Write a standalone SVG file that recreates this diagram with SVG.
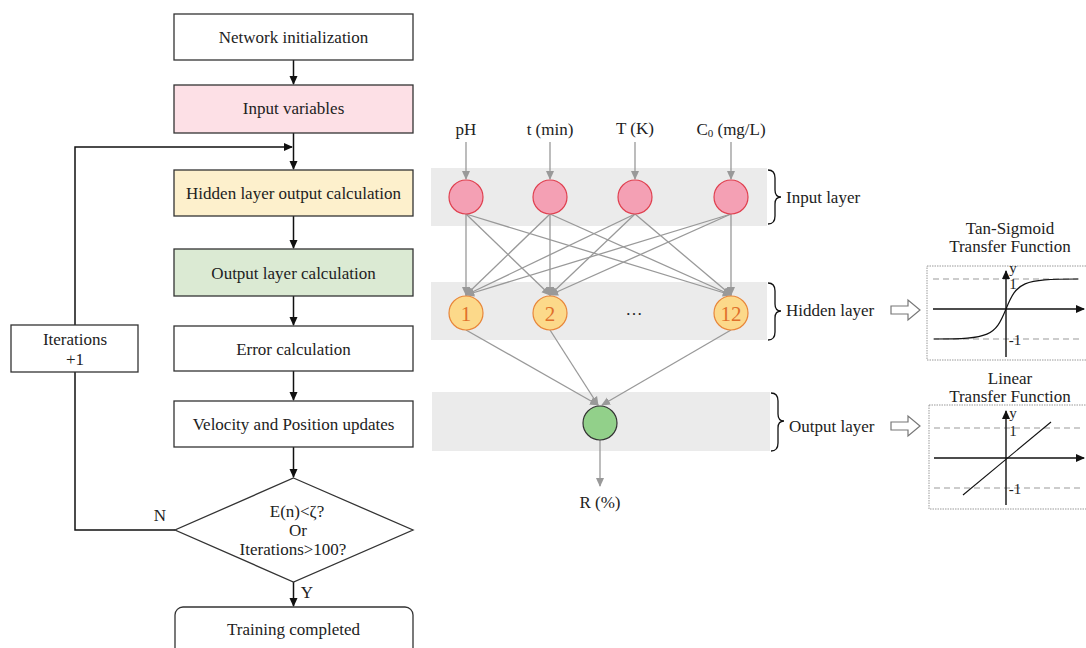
<svg xmlns="http://www.w3.org/2000/svg" width="1086" height="648" viewBox="0 0 1086 648">
<defs>
<style>
.t{font-family:"Liberation Serif","DejaVu Serif",serif;font-size:17px;fill:#222;text-anchor:middle;dominant-baseline:central}
.s{text-anchor:start}
.box{stroke:#333;stroke-width:1.3}
.fl{stroke:#111;stroke-width:1.5;fill:none}
.nn{stroke:#999;stroke-width:1.3;fill:none}
.band{fill:#ebebeb}
.in{fill:#f4a0b4;stroke:#e0404f;stroke-width:1.2}
.hid{fill:#fcd98a;stroke:#e8863a;stroke-width:1.2}
.hn{font-family:"Liberation Serif",serif;font-size:21px;fill:#e0702a;text-anchor:middle;dominant-baseline:central}
.dash{stroke:#999;stroke-width:1;stroke-dasharray:6 4;fill:none}
.panel{fill:#fff;stroke:#999;stroke-width:1;stroke-dasharray:1.5 1}
.ax{stroke:#111;stroke-width:1.4;fill:none}
.brace{stroke:#111;stroke-width:1.3;fill:none}
.ha{fill:#fff;stroke:#777;stroke-width:1.2}
.p{font-size:15px}
</style>
<marker id="ab" markerWidth="10" markerHeight="10" refX="8" refY="5" orient="auto" markerUnits="userSpaceOnUse"><path d="M0,1 L9,5 L0,9 Z" fill="#111"/></marker>
<marker id="ag" markerWidth="10" markerHeight="10" refX="8" refY="5" orient="auto" markerUnits="userSpaceOnUse"><path d="M0,1 L9,5 L0,9 Z" fill="#999"/></marker>
<marker id="ax" markerWidth="10" markerHeight="10" refX="8" refY="5" orient="auto" markerUnits="userSpaceOnUse"><path d="M0,1 L9,5 L0,9 Z" fill="#111"/></marker>
</defs>
<rect width="1086" height="648" fill="#fff"/>

<!-- bands -->
<rect class="band" x="431" y="168" width="336" height="58"/>
<rect class="band" x="431" y="282" width="336" height="58"/>
<rect class="band" x="432" y="392" width="338" height="59"/>

<!-- connectors -->
<g id="connectors">
<line class="fl" x1="293.5" y1="60" x2="293.5" y2="84" marker-end="url(#ab)"/>
<line class="fl" x1="293.5" y1="133" x2="293.5" y2="169" marker-end="url(#ab)"/>
<line class="fl" x1="293.5" y1="216" x2="293.5" y2="248" marker-end="url(#ab)"/>
<line class="fl" x1="293.5" y1="296" x2="293.5" y2="325" marker-end="url(#ab)"/>
<line class="fl" x1="293.5" y1="371" x2="293.5" y2="400" marker-end="url(#ab)"/>
<line class="fl" x1="293.5" y1="447" x2="293.5" y2="477" marker-end="url(#ab)"/>
<line class="fl" x1="293.5" y1="582" x2="293.5" y2="606" marker-end="url(#ab)"/>
<polyline class="fl" points="175,530 75,530 75,372"/>
<polyline class="fl" points="75,325 75,147 292,147" marker-end="url(#ab)"/>
<!-- NN inputs -->
<line class="nn" x1="466" y1="142" x2="466" y2="179" marker-end="url(#ag)"/>
<line class="nn" x1="550" y1="142" x2="550" y2="179" marker-end="url(#ag)"/>
<line class="nn" x1="635" y1="142" x2="635" y2="179" marker-end="url(#ag)"/>
<line class="nn" x1="731" y1="142" x2="731" y2="179" marker-end="url(#ag)"/>
<!-- input to hidden -->
<g marker-end="url(#ag)">
<line class="nn" x1="466" y1="214" x2="466" y2="295"/>
<line class="nn" x1="466" y1="214" x2="550" y2="295"/>
<line class="nn" x1="466" y1="214" x2="731" y2="295"/>
<line class="nn" x1="550" y1="214" x2="466" y2="295"/>
<line class="nn" x1="550" y1="214" x2="550" y2="295"/>
<line class="nn" x1="550" y1="214" x2="731" y2="295"/>
<line class="nn" x1="635" y1="214" x2="466" y2="295"/>
<line class="nn" x1="635" y1="214" x2="550" y2="295"/>
<line class="nn" x1="635" y1="214" x2="731" y2="295"/>
<line class="nn" x1="731" y1="214" x2="466" y2="295"/>
<line class="nn" x1="731" y1="214" x2="550" y2="295"/>
<line class="nn" x1="731" y1="214" x2="731" y2="295"/>
<line class="nn" x1="466" y1="330" x2="598" y2="405"/>
<line class="nn" x1="550" y1="330" x2="598" y2="405"/>
<line class="nn" x1="731" y1="330" x2="602" y2="405"/>
<line class="nn" x1="600" y1="440" x2="600" y2="486"/>
</g>
</g>

<!-- flowchart nodes -->
<g id="n-init"><rect class="box" x="174" y="14" width="239" height="46" fill="#fff"/><text class="t" x="293.5" y="37">Network initialization</text></g>
<g id="n-input"><rect class="box" x="174" y="85" width="239" height="48" fill="#fde0e6"/><text class="t" x="293.5" y="108">Input variables</text></g>
<g id="n-hidden"><rect class="box" x="174" y="170" width="239" height="46" fill="#fdf0cc"/><text class="t" x="293.5" y="193">Hidden layer output calculation</text></g>
<g id="n-output"><rect class="box" x="174" y="249" width="239" height="47" fill="#dbead3"/><text class="t" x="293.5" y="273">Output layer calculation</text></g>
<g id="n-error"><rect class="box" x="174" y="326" width="239" height="45" fill="#fff"/><text class="t" x="293.5" y="349">Error calculation</text></g>
<g id="n-iter"><rect class="box" x="11" y="325" width="127" height="47" fill="#fff"/><text class="t" x="75" y="339">Iterations</text><text class="t" x="75" y="359">+1</text></g>
<g id="n-vel"><rect class="box" x="174" y="401" width="239" height="46" fill="#fff"/><text class="t" x="293.5" y="424">Velocity and Position updates</text></g>
<g id="n-dec"><polygon class="box" points="293.5,478 413,530 293.5,582 175,530" fill="#fff"/><text class="t" x="297" y="511">E(n)&lt;ζ?</text><text class="t" x="298" y="530">Or</text><text class="t" x="293" y="549">Iterations&gt;100?</text></g>
<text class="t" x="160" y="515">N</text>
<text class="t" x="307" y="592">Y</text>
<g id="n-done"><rect class="box" x="175" y="607" width="238" height="60" rx="8" fill="#fff"/><text class="t" x="293.5" y="629">Training completed</text></g>

<!-- NN labels -->
<text class="t" x="466" y="129">pH</text>
<text class="t" x="550" y="129">t (min)</text>
<text class="t" x="635" y="128">T (K)</text>
<text class="t" x="731" y="129">C<tspan font-size="11" dy="4">0</tspan><tspan dy="-4"> (mg/L)</tspan></text>
<text class="t" x="600" y="502">R (%)</text>

<!-- NN nodes -->
<g id="in1"><circle class="in" cx="466" cy="197" r="17"/></g>
<g id="in2"><circle class="in" cx="550" cy="197" r="17"/></g>
<g id="in3"><circle class="in" cx="635" cy="197" r="17"/></g>
<g id="in4"><circle class="in" cx="731" cy="197" r="17"/></g>
<g id="h1"><circle class="hid" cx="466" cy="313" r="17"/><text class="hn" x="466" y="314">1</text></g>
<g id="h2"><circle class="hid" cx="550" cy="313" r="17"/><text class="hn" x="550" y="314">2</text></g>
<g id="hdots"><text class="t" x="634" y="309" font-size="22">…</text></g>
<g id="h12"><circle class="hid" cx="731" cy="313" r="17"/><text class="hn" x="731" y="314">12</text></g>
<g id="out"><circle cx="600" cy="423" r="17" fill="#92d08a" stroke="#333" stroke-width="1.2"/></g>

<!-- braces -->
<path class="brace" d="M768,170 Q775,170 775,178 L775,190 Q775,197 781,197 Q775,197 775,204 L775,216 Q775,224 768,224"/>
<text class="t s" x="786" y="197">Input layer</text>
<path class="brace" d="M768,283 Q775,283 775,291 L775,304 Q775,311 781,311 Q775,311 775,318 L775,332 Q775,340 768,340"/>
<text class="t s" x="786" y="310">Hidden layer</text>
<path class="brace" d="M771,393 Q778,393 778,401 L778,414 Q778,421 784,421 Q778,421 778,428 L778,443 Q778,451 771,451"/>
<text class="t s" x="789" y="426">Output layer</text>

<!-- hollow arrows -->
<path class="ha" d="M891,306 L908,306 L908,300 L920,310 L908,320 L908,314 L891,314 Z"/>
<path class="ha" d="M891,422 L908,422 L908,416 L920,426 L908,436 L908,430 L891,430 Z"/>

<!-- Tan-Sigmoid panel -->
<g id="tansig">
<text class="t" x="1010" y="228">Tan-Sigmoid</text>
<text class="t" x="1010" y="246">Transfer Function</text>
<rect class="panel" x="927" y="266" width="170" height="94"/>
<line class="dash" x1="933" y1="279" x2="1080" y2="279"/>
<line class="dash" x1="933" y1="339" x2="1080" y2="339"/>
<line class="ax" x1="1006" y1="357" x2="1006" y2="271" marker-end="url(#ax)"/>
<line class="ax" x1="933" y1="309" x2="1084" y2="309" marker-end="url(#ax)"/>
<path d="M934,339 C990,339 995,336 1006,309 C1017,282 1022,279 1078,279" fill="none" stroke="#111" stroke-width="1.2"/>
<text class="t p" x="1013" y="268">y</text>
<text class="t p" x="1013" y="284">1</text>
<text class="t p" x="1015" y="340">-1</text>
</g>

<!-- Linear panel -->
<g id="linear">
<text class="t" x="1010" y="378">Linear</text>
<text class="t" x="1010" y="396">Transfer Function</text>
<rect class="panel" x="929" y="405" width="168" height="104"/>
<line class="dash" x1="934" y1="428" x2="1080" y2="428"/>
<line class="dash" x1="934" y1="488" x2="1080" y2="488"/>
<line class="ax" x1="1006" y1="505" x2="1006" y2="411" marker-end="url(#ax)"/>
<line class="ax" x1="934" y1="458" x2="1084" y2="458" marker-end="url(#ax)"/>
<line x1="963" y1="495" x2="1051" y2="422" stroke="#111" stroke-width="1.1"/>
<text class="t p" x="1013" y="413">y</text>
<text class="t p" x="1013" y="431">1</text>
<text class="t p" x="1015" y="489">-1</text>
</g>
</svg>
